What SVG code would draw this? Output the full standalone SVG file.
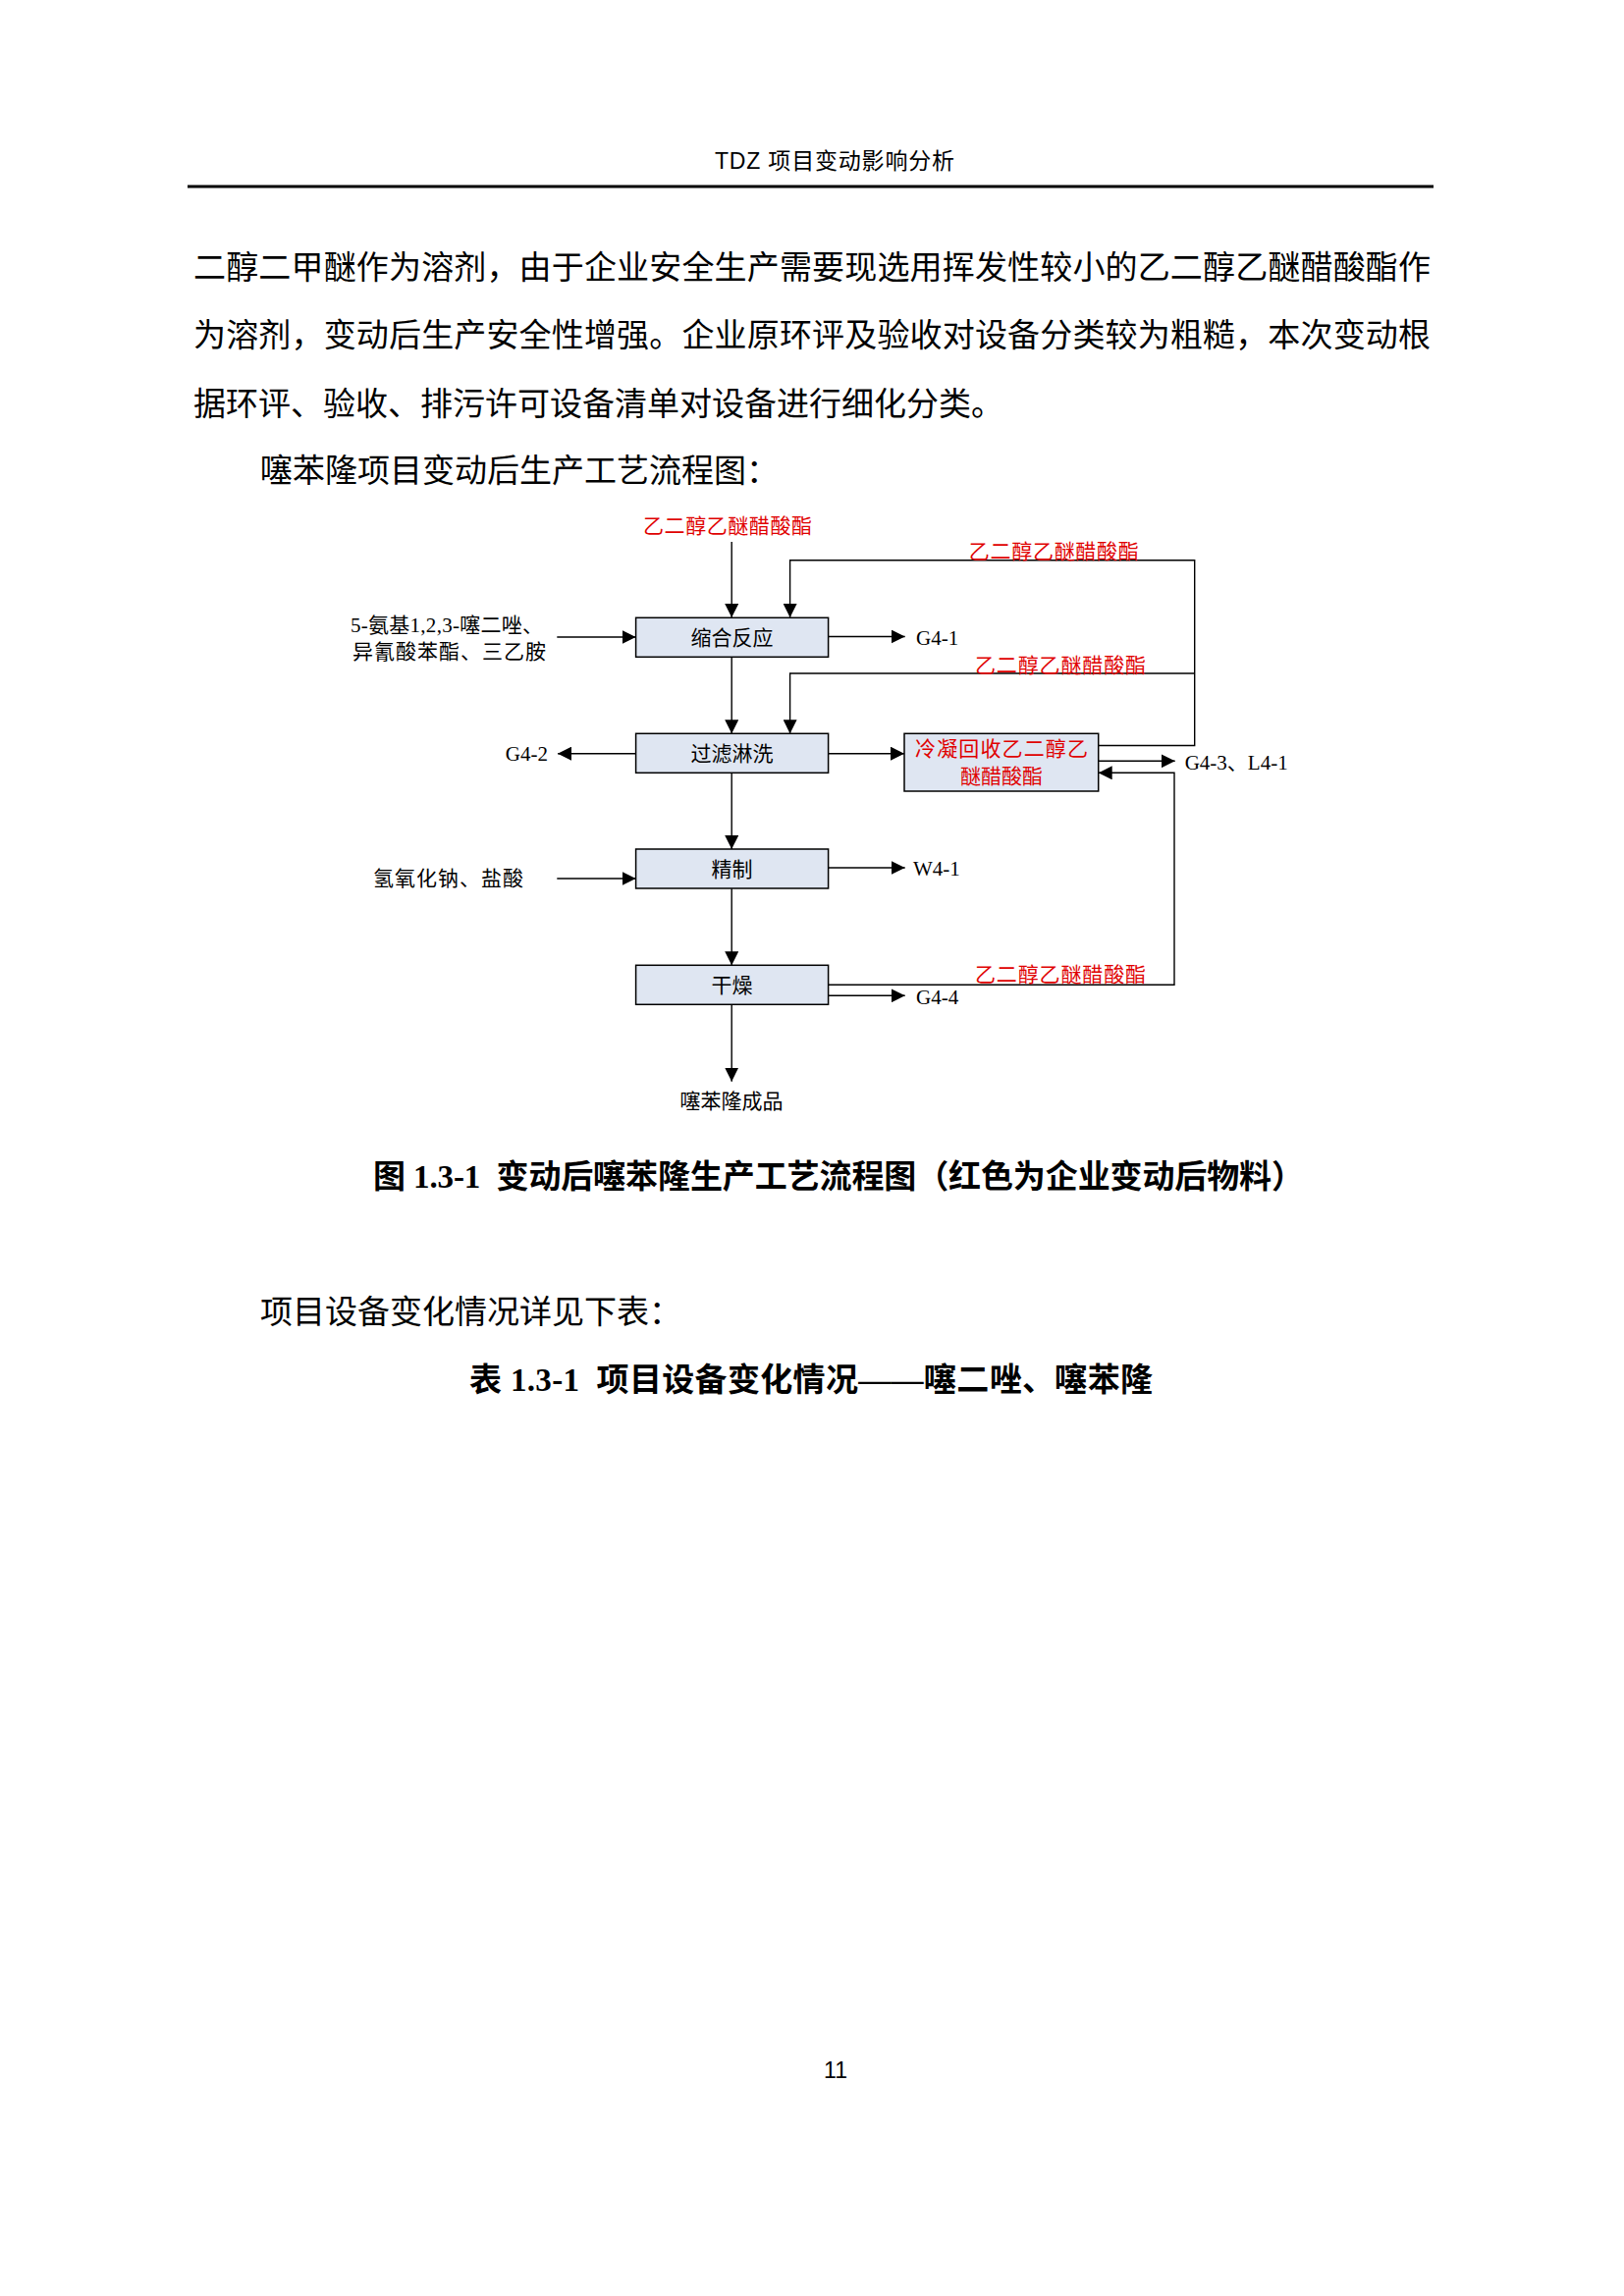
<svg xmlns="http://www.w3.org/2000/svg" width="1654" height="2339" viewBox="0 0 1654 2339">
<style>
.body{font-family:"Liberation Serif","Noto Sans CJK SC",serif;font-size:33px;fill:#000}
.bold{font-weight:bold}
.hdr{font-family:"Liberation Sans","Noto Sans CJK SC",sans-serif;font-size:23px;fill:#000}
.dt{font-family:"Liberation Serif","Noto Sans CJK SC",serif;font-size:21px;fill:#000}
.red{fill:#e00000}
.box{fill:#dfe6f2;stroke:#000;stroke-width:1.5}
.ln{fill:none;stroke:#000;stroke-width:1.4}
</style>
<defs>
<marker id="arr" viewBox="0 0 14 14" refX="14" refY="7" markerWidth="14" markerHeight="14" markerUnits="userSpaceOnUse" orient="auto">
<path d="M0,0 L14,7 L0,14 z" fill="#000"/>
</marker>
</defs>
<rect width="1654" height="2339" fill="#fff"/>
<!-- page header -->
<text class="hdr" x="850" y="172" text-anchor="middle" textLength="244">TDZ 项目变动影响分析</text>
<line x1="191" y1="190" x2="1460" y2="190" stroke="#000" stroke-width="3"/>
<!-- body text -->
<text class="body" x="197" y="284" textLength="1260" lengthAdjust="spacing">二醇二甲醚作为溶剂，由于企业安全生产需要现选用挥发性较小的乙二醇乙醚醋酸酯作</text>
<text class="body" x="197" y="353" textLength="1260" lengthAdjust="spacing">为溶剂，变动后生产安全性增强。企业原环评及验收对设备分类较为粗糙，本次变动根</text>
<text class="body" x="197" y="423">据环评、验收、排污许可设备清单对设备进行细化分类。</text>
<text class="body" x="265" y="491">噻苯隆项目变动后生产工艺流程图：</text>

<!-- connectors -->
<g id="connectors">
<line class="ln" x1="745.2" y1="552" x2="745.2" y2="629" marker-end="url(#arr)"/>
<polyline class="ln" points="1118.7,759.5 1216.7,759.5 1216.7,570.7 804.6,570.7 804.6,629" marker-end="url(#arr)"/>
<polyline class="ln" points="1216.7,686 804.6,686 804.6,747.3" marker-end="url(#arr)"/>
<line class="ln" x1="567.3" y1="649" x2="647.6" y2="649" marker-end="url(#arr)"/>
<line class="ln" x1="843.6" y1="648.5" x2="921.7" y2="648.5" marker-end="url(#arr)"/>
<line class="ln" x1="745.2" y1="669.3" x2="745.2" y2="747.3" marker-end="url(#arr)"/>
<line class="ln" x1="647.6" y1="767.7" x2="568" y2="767.7" marker-end="url(#arr)"/>
<line class="ln" x1="843.6" y1="767.7" x2="921" y2="767.7" marker-end="url(#arr)"/>
<line class="ln" x1="1118.7" y1="775.3" x2="1196.7" y2="775.3" marker-end="url(#arr)"/>
<polyline class="ln" points="843.6,1003.3 1196,1003.3 1196,787.3 1118.7,787.3" marker-end="url(#arr)"/>
<line class="ln" x1="745.2" y1="787.3" x2="745.2" y2="865" marker-end="url(#arr)"/>
<line class="ln" x1="567.3" y1="895" x2="647.6" y2="895" marker-end="url(#arr)"/>
<line class="ln" x1="843.6" y1="884" x2="921.7" y2="884" marker-end="url(#arr)"/>
<line class="ln" x1="745.2" y1="905.3" x2="745.2" y2="983.3" marker-end="url(#arr)"/>
<line class="ln" x1="843.6" y1="1014.3" x2="921.7" y2="1014.3" marker-end="url(#arr)"/>
<line class="ln" x1="745.2" y1="1023.3" x2="745.2" y2="1101.7" marker-end="url(#arr)"/>
</g>

<!-- nodes -->
<g id="node-condensation">
<rect class="box" x="647.6" y="629.3" width="196" height="40"/>
<text class="dt" x="745.6" y="657" text-anchor="middle">缩合反应</text>
</g>
<g id="node-filter">
<rect class="box" x="647.6" y="747.3" width="196" height="40"/>
<text class="dt" x="745.6" y="775" text-anchor="middle">过滤淋洗</text>
</g>
<g id="node-refine">
<rect class="box" x="647.6" y="865" width="196" height="40"/>
<text class="dt" x="745.6" y="893" text-anchor="middle">精制</text>
</g>
<g id="node-dry">
<rect class="box" x="647.6" y="983.3" width="196" height="40"/>
<text class="dt" x="745.6" y="1011" text-anchor="middle">干燥</text>
</g>
<g id="node-condenser">
<rect class="box" x="921" y="747.3" width="197.7" height="58.7"/>
<text class="dt red" x="1020" y="769.5" text-anchor="middle" textLength="176">冷凝回收乙二醇乙</text>
<text class="dt red" x="1020" y="798" text-anchor="middle">醚醋酸酯</text>
</g>

<!-- labels -->
<g id="labels">
<text class="dt red" x="741" y="543" text-anchor="middle" textLength="172">乙二醇乙醚醋酸酯</text>
<text class="dt red" x="1073.3" y="569" text-anchor="middle" textLength="173">乙二醇乙醚醋酸酯</text>
<text class="dt red" x="1080" y="684.5" text-anchor="middle" textLength="174">乙二醇乙醚醋酸酯</text>
<text class="dt red" x="1080" y="1000" text-anchor="middle" textLength="174">乙二醇乙醚醋酸酯</text>
<text class="dt" x="357" y="643.5" textLength="196" lengthAdjust="spacing">5-氨基1,2,3-噻二唑、</text>
<text class="dt" x="359" y="670.5" textLength="197" lengthAdjust="spacing">异氰酸苯酯、三乙胺</text>
<text class="dt" x="380" y="902" textLength="153" lengthAdjust="spacing">氢氧化钠、盐酸</text>
<text class="dt" x="933" y="657">G4-1</text>
<text class="dt" x="558" y="775" text-anchor="end">G4-2</text>
<text class="dt" x="1206.7" y="784">G4-3、L4-1</text>
<text class="dt" x="930" y="892">W4-1</text>
<text class="dt" x="933" y="1022.7">G4-4</text>
<text class="dt" x="745" y="1129" text-anchor="middle">噻苯隆成品</text>
</g>

<!-- captions -->
<text class="body bold" x="380" y="1210" textLength="948" lengthAdjust="spacing" xml:space="preserve">图 1.3-1  变动后噻苯隆生产工艺流程图（红色为企业变动后物料）</text>
<text class="body" x="265" y="1348">项目设备变化情况详见下表：</text>
<text class="body bold" x="478" y="1417" textLength="696" lengthAdjust="spacing" xml:space="preserve">表 1.3-1  项目设备变化情况——噻二唑、噻苯隆</text>
<text class="hdr" x="851" y="2117" text-anchor="middle" font-size="22">11</text>
</svg>
